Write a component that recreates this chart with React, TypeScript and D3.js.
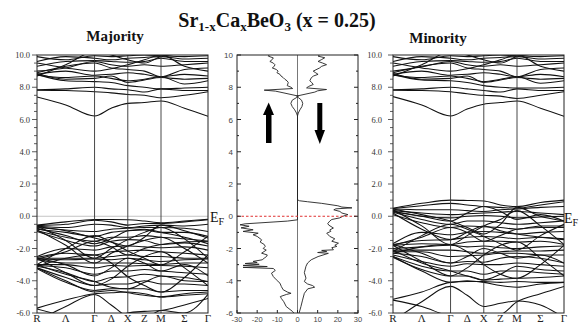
import React from 'react';
import * as d3 from 'd3';

// k-path R - Λ - Γ - Δ - X - Z - M - Σ - Γ (simple cubic lengths)
const kLabels = ['R', 'Λ', 'Γ', 'Δ', 'X', 'Z', 'M', 'Σ', 'Γ'];
const kPos = [0, 0.866, 1.732, 2.232, 2.732, 3.232, 3.732, 4.439, 5.146];
const kLines = [1.732, 2.732, 3.732];
const bandTicks = [10, 8, 6, 4, 2, 0, -2, -4, -6];
const dosTicksY = [10, 8, 6, 4, 2, 0, -2, -4, -6];
const dosTicksX = [-30, -20, -10, 0, 10, 20, 30];

// energies (eV) at the 9 k-points above
const majValence = [
  [-0.55, -0.35, -0.2, -0.2, -0.22, -0.3, -0.4, -0.3, -0.18],
  [-0.58, -0.5, -0.25, -0.35, -0.55, -0.45, -0.45, -0.35, -0.22],
  [-0.62, -0.7, -0.5, -0.55, -0.7, -0.6, -0.55, -0.6, -0.5],
  [-0.7, -0.85, -0.95, -0.8, -0.75, -0.7, -0.7, -0.75, -0.95],
  [-0.8, -1.0, -1.25, -1.0, -0.9, -0.85, -1.0, -1.0, -1.25],
  [-0.9, -1.3, -1.55, -1.3, -1.3, -1.2, -1.3, -1.4, -1.55],
  [-0.95, -1.5, -1.85, -1.55, -1.45, -1.5, -1.75, -1.65, -1.85],
  [-2.5, -2.0, -2.1, -1.9, -1.85, -1.9, -1.95, -1.9, -2.1],
  [-2.55, -2.3, -2.4, -2.2, -2.15, -2.1, -2.2, -2.3, -2.4],
  [-2.6, -2.6, -2.6, -2.5, -2.4, -2.5, -2.5, -2.6, -2.6],
  [-2.65, -2.7, -2.65, -2.7, -2.6, -2.7, -2.8, -2.7, -2.65],
  [-2.7, -2.9, -2.9, -2.9, -2.9, -2.95, -3.0, -2.9, -2.9],
  [-3.0, -3.0, -3.2, -3.05, -3.1, -3.05, -3.05, -3.1, -3.2],
  [-3.05, -3.2, -3.6, -3.4, -3.4, -3.3, -3.4, -3.5, -3.6],
  [-3.1, -3.5, -4.05, -3.8, -3.75, -3.6, -3.7, -3.8, -4.05],
  [-3.2, -3.8, -4.3, -4.2, -4.2, -4.0, -4.2, -4.2, -4.3],
  [-3.25, -4.1, -4.6, -4.5, -4.5, -4.5, -4.7, -4.6, -4.6],
  [-5.7, -5.2, -4.8, -4.75, -4.7, -4.8, -5.0, -4.9, -4.8],
  [-5.75, -6.2, -6.5, -6.3, -6.0, -5.9, -5.85, -5.5, -5.1],
  [-6.5, -5.6, -4.85, -5.5, -6.2, -6.3, -5.85, -6.0, -4.85],
  [-0.6, -1.5, -2.6, -2.0, -1.45, -1.0, -0.7, -1.4, -2.6],
  [-3.0, -2.0, -1.2, -1.6, -2.15, -2.6, -3.0, -2.2, -1.25],
  [-2.6, -3.5, -4.3, -3.9, -3.1, -2.5, -2.2, -3.2, -4.3],
  [-3.1, -2.6, -2.4, -2.9, -3.75, -4.3, -4.7, -3.8, -2.4],
  [-0.65, -0.9, -1.35, -1.6, -1.85, -1.3, -0.55, -0.9, -1.35],
  [-0.85, -1.8, -2.9, -2.3, -1.85, -1.5, -1.3, -2.0, -2.9],
  [-2.6, -3.0, -3.7, -3.2, -2.6, -2.9, -3.4, -3.0, -3.7],
  [-3.0, -3.6, -4.05, -4.4, -4.5, -4.1, -3.7, -4.0, -4.05],
  [-2.65, -2.2, -1.55, -1.9, -2.4, -2.0, -1.75, -1.6, -1.55],
  [-3.2, -4.0, -4.7, -4.6, -4.75, -4.9, -5.0, -4.8, -4.7],
  [-0.75, -1.2, -1.7, -1.4, -0.9, -0.8, -1.0, -1.3, -1.7],
];

const majConduction = [
  [7.4, 6.9, 6.22, 6.7, 7.0, 7.05, 7.15, 6.7, 6.2],
  [7.82, 7.8, 7.72, 7.65, 7.55, 7.5, 7.35, 7.5, 7.72],
  [7.85, 7.9, 8.0, 7.9, 7.85, 7.7, 7.9, 7.8, 7.8],
  [8.8, 8.4, 8.35, 8.3, 8.1, 8.0, 7.9, 7.95, 8.0],
  [8.75, 8.6, 8.7, 8.55, 8.4, 8.5, 8.65, 8.2, 8.4],
  [8.8, 9.0, 8.75, 8.8, 8.9, 8.8, 8.65, 8.8, 8.7],
  [8.9, 9.3, 9.5, 9.2, 9.1, 9.0, 8.65, 9.1, 9.2],
  [9.0, 9.2, 9.6, 9.4, 9.3, 9.4, 9.3, 9.4, 9.5],
  [9.3, 9.6, 9.65, 9.6, 9.55, 9.6, 9.8, 9.6, 9.6],
  [9.6, 9.9, 9.8, 9.7, 9.8, 9.85, 9.9, 9.75, 9.8],
  [9.9, 9.7, 9.95, 9.9, 9.95, 10.0, 9.95, 9.9, 9.95],
  [8.7, 9.4, 10.2, 10.0, 9.7, 9.5, 9.9, 10.1, 10.2],
  [9.5, 9.2, 9.0, 9.15, 9.4, 9.7, 10.0, 9.3, 9.0],
  [8.85, 8.5, 8.55, 8.7, 8.3, 8.45, 8.6, 8.5, 8.55],
];

const minValence = [
  [0.5, 0.8, 1.0, 0.98, 0.95, 0.7, 0.6, 0.85, 1.0],
  [0.48, 0.65, 0.8, 0.7, 0.6, 0.55, 0.5, 0.7, 0.9],
  [0.45, 0.4, 0.4, 0.35, 0.3, 0.4, 0.45, 0.55, 0.6],
  [0.35, 0.2, 0.1, 0.15, 0.2, 0.25, 0.3, 0.2, 0.1],
  [0.3, 0.0, -0.1, 0.0, 0.05, 0.0, -0.1, -0.05, 0.0],
  [0.25, -0.2, -0.5, -0.3, -0.3, -0.4, -0.5, -0.4, -0.3],
  [0.1, -0.4, -0.7, -0.6, -0.65, -0.7, -0.8, -0.6, -0.6],
  [-1.7, -1.0, -1.15, -1.0, -0.95, -1.0, -1.1, -1.0, -0.95],
  [-1.75, -1.5, -1.45, -1.3, -1.25, -1.3, -1.4, -1.3, -1.4],
  [-1.8, -1.7, -1.75, -1.6, -1.55, -1.55, -1.6, -1.55, -1.75],
  [-2.0, -1.9, -1.8, -1.9, -1.85, -1.95, -2.0, -1.9, -1.85],
  [-2.1, -2.1, -2.1, -2.2, -2.3, -2.2, -2.15, -2.15, -2.1],
  [-2.2, -2.2, -2.5, -2.45, -2.4, -2.3, -2.3, -2.4, -2.4],
  [-2.3, -2.5, -2.9, -2.8, -2.85, -2.6, -2.5, -2.6, -2.9],
  [-2.4, -2.8, -3.1, -2.95, -3.0, -3.0, -2.9, -3.0, -3.1],
  [-2.5, -3.1, -3.4, -3.4, -3.6, -3.4, -3.4, -3.5, -3.6],
  [-2.55, -3.3, -3.7, -3.7, -3.95, -3.9, -3.85, -3.8, -3.7],
  [-5.15, -4.7, -4.1, -4.05, -4.05, -4.1, -4.05, -4.1, -4.1],
  [-5.2, -5.6, -6.2, -6.3, -6.2, -6.1, -5.3, -4.8, -4.35],
  [-6.5, -5.3, -4.35, -4.9, -5.6, -5.4, -5.25, -5.5, -6.3],
  [0.4, -0.6, -1.75, -1.2, -0.6, -0.2, 0.35, -0.6, -1.75],
  [-2.2, -1.2, -0.5, -0.8, -1.25, -1.7, -2.1, -1.2, -0.5],
  [-1.8, -2.8, -3.7, -3.2, -2.4, -1.8, -1.6, -2.6, -3.7],
  [-2.3, -1.9, -1.75, -2.2, -3.0, -3.6, -3.85, -3.0, -1.8],
  [0.45, 0.1, -0.3, -0.7, -1.1, -0.5, 0.55, 0.0, -0.3],
  [0.2, -0.8, -1.45, -1.0, -0.6, -0.9, -1.1, -1.3, -1.45],
  [-1.75, -2.3, -2.9, -2.5, -2.0, -2.3, -2.6, -2.4, -2.9],
  [-2.1, -2.9, -3.4, -3.7, -3.95, -3.6, -3.1, -3.3, -3.4],
  [-1.8, -1.3, -0.7, -1.0, -1.55, -1.2, -0.8, -0.7, -0.7],
  [-2.5, -3.4, -4.1, -4.0, -4.1, -4.3, -4.4, -4.2, -4.1],
  [0.3, 0.0, -0.3, 0.2, 0.6, 0.3, -0.2, 0.1, -0.3],
];

const minConduction = [
  [7.42, 6.9, 6.22, 6.65, 6.95, 7.05, 7.15, 6.7, 6.2],
  [7.82, 7.8, 7.72, 7.6, 7.5, 7.45, 7.3, 7.5, 7.72],
  [7.85, 7.9, 8.0, 7.9, 7.8, 7.7, 7.9, 7.8, 7.8],
  [8.8, 8.45, 8.4, 8.3, 8.1, 8.0, 7.95, 7.95, 8.0],
  [8.75, 8.6, 8.7, 8.55, 8.35, 8.5, 8.65, 8.25, 8.4],
  [8.8, 9.0, 8.75, 8.8, 8.9, 8.8, 8.65, 8.8, 8.65],
  [8.9, 9.3, 9.5, 9.2, 9.1, 9.0, 8.65, 9.1, 9.2],
  [9.0, 9.25, 9.6, 9.4, 9.3, 9.4, 9.3, 9.4, 9.5],
  [9.3, 9.6, 9.65, 9.6, 9.55, 9.6, 9.8, 9.6, 9.6],
  [9.6, 9.9, 9.8, 9.7, 9.8, 9.85, 9.9, 9.75, 9.8],
  [9.9, 9.7, 9.95, 9.9, 9.95, 10.0, 9.95, 9.9, 9.95],
  [8.7, 9.4, 10.2, 10.0, 9.7, 9.5, 9.9, 10.1, 10.2],
  [9.5, 9.2, 9.0, 9.15, 9.4, 9.7, 10.0, 9.3, 9.0],
  [8.85, 8.5, 8.55, 8.7, 8.3, 8.45, 8.6, 8.5, 8.55],
];

// DOS [energy, states/eV]; spin up plotted negative
const dosUp = [
  [10.0, -14], [9.93, -14.5], [9.82, -12], [9.72, -12.5], [9.6, -13.7], [9.5, -12], [9.4, -11.2], [9.3, -11.5],
  [9.2, -12.5], [9.1, -10.5], [9.0, -9.6], [8.9, -10.2], [8.8, -8.7], [8.7, -8.2], [8.6, -7.1], [8.5, -6.3],
  [8.4, -5.2], [8.3, -4.6], [8.2, -4.8], [8.1, -5.1], [8.0, -3.2], [7.92, -2.4], [7.82, -16.5], [7.76, -11],
  [7.7, -8.7], [7.45, 0.5], [7.35, -0.6], [7.2, -2.6], [7.0, -3.3], [6.8, -2.6], [6.6, -1.4], [6.4, -0.5],
  [6.22, 0], [-0.22, 0], [-0.3, -5], [-0.47, -26], [-0.53, -28.5], [-0.62, -24], [-0.72, -28], [-0.84, -22],
  [-0.94, -27], [-1.05, -19.5], [-1.15, -22], [-1.25, -20], [-1.46, -17.8], [-1.6, -18.5], [-1.75, -16.5],
  [-1.87, -16], [-2.0, -17], [-2.1, -15.5], [-2.29, -17.8], [-2.4, -15], [-2.49, -15.3], [-2.6, -16.5],
  [-2.7, -17.5], [-2.8, -22], [-2.87, -20], [-2.93, -26], [-2.98, -19], [-3.05, -27], [-3.12, -15],
  [-3.17, -27], [-3.24, -12], [-3.36, -11], [-3.53, -12.9], [-3.74, -12], [-3.94, -10.5], [-4.15, -8.7],
  [-4.36, -8], [-4.56, -7.1], [-4.7, -5], [-4.78, -3.2], [-4.85, -5.5], [-4.98, -8.5], [-5.1, -8],
  [-5.3, -6.8], [-5.6, -5.6], [-5.9, -2.5], [-6.2, -0.5],
];

const dosDown = [
  [10.0, 11], [9.93, 10.2], [9.83, 13.5], [9.72, 12], [9.6, 10.2], [9.5, 12.5], [9.4, 14.4], [9.3, 12],
  [9.2, 11], [9.0, 7.8], [8.9, 9], [8.8, 10.2], [8.7, 8], [8.6, 6.9], [8.4, 6.1], [8.3, 7], [8.17, 7.8],
  [8.05, 5.5], [7.96, 4.5], [7.86, 14.4], [7.78, 10], [7.7, 8.6], [7.45, -0.5], [7.35, 0.5], [7.2, 2.0],
  [7.0, 2.6], [6.8, 2.2], [6.6, 1.2], [6.4, 0.4], [6.22, 0], [1.02, 0], [0.96, 1], [0.9, 5], [0.8, 12],
  [0.65, 20], [0.57, 22], [0.52, 27], [0.46, 19], [0.4, 18], [0.3, 21], [0.2, 22], [0.1, 25], [0.0, 22.5],
  [-0.1, 21], [-0.2, 17], [-0.3, 16], [-0.45, 15], [-0.55, 15.5], [-0.73, 17.8], [-0.85, 16], [-0.94, 16.5],
  [-1.05, 14.5], [-1.25, 16], [-1.4, 18.5], [-1.55, 17], [-1.67, 20.3], [-1.8, 18.5], [-1.87, 19.5],
  [-1.95, 17], [-2.08, 17.8], [-2.12, 12], [-2.18, 14.5], [-2.25, 10], [-2.3, 15.3], [-2.5, 10.2],
  [-2.7, 6.8], [-2.9, 5], [-3.1, 4.2], [-3.5, 3.4], [-3.84, 4.2], [-4.05, 3.4], [-4.2, 5], [-4.3, 7.5],
  [-4.4, 8.5], [-4.5, 5.1], [-4.78, 3.4], [-5.2, 2.5], [-5.6, 1.7], [-6.0, 0.8], [-6.3, 0.5],
];

const serif = 'Liberation Serif, Times New Roman, serif';
const sans = 'Liberation Sans, Arial, sans-serif';

const yBand = d3.scaleLinear().domain([-6, 10]).range([313, 55]);

function BandPanel({ id, left, right, bands, labelX }: any) {
  const x = d3.scaleLinear().domain([0, kPos[kPos.length - 1]]).range([left, right]);
  const line = d3.line<number>()
    .x((d, i) => x(kPos[i]))
    .y(d => yBand(d))
    .curve(d3.curveMonotoneX);
  const minor = d3.range(-6, 10.01, 0.5);
  return (
    <g>
      <defs>
        <clipPath id={id}>
          <rect x={left} y={55} width={right - left} height={258} />
        </clipPath>
      </defs>
      <line x1={left} x2={right} y1={yBand(0)} y2={yBand(0)} stroke="#b5b5b5" strokeWidth={0.8} />
      <g clipPath={`url(#${id})`}>
        {bands.map((b: number[], i: number) => (
          <path key={i} d={line(b) || ''} fill="none" stroke="#111" strokeWidth={1.05} />
        ))}
      </g>
      {kLines.map(k => (
        <line key={k} x1={x(k)} x2={x(k)} y1={55} y2={313} stroke="#333" strokeWidth={0.9} />
      ))}
      <rect x={left} y={55} width={right - left} height={258} fill="none" stroke="#222" strokeWidth={1} />
      {minor.map(v => (
        <line key={v} x1={left - (v % 2 === 0 ? 5 : 3)} x2={left} y1={yBand(v)} y2={yBand(v)} stroke="#333" strokeWidth={0.8} />
      ))}
      {bandTicks.map(v => (
        <text key={v} x={labelX} y={yBand(v) + 3} textAnchor="end" fontFamily={serif} fontSize={8.5} fill="#333">
          {v.toFixed(1)}
        </text>
      ))}
      {kLabels.map((l, i) => (
        <text key={i} x={x(kPos[i])} y={321.5} textAnchor="middle" fontFamily={serif} fontSize={11} fill="#222">
          {l}
        </text>
      ))}
    </g>
  );
}

function DosPanel() {
  const left = 237, right = 358, top = 55, bottom = 313;
  const x = d3.scaleLinear().domain([-30, 30]).range([left, right]);
  const y = d3.scaleLinear().domain([-6, 10]).range([bottom, top]);
  const line = d3.line<number[]>().x(d => x(d[1])).y(d => y(d[0]));
  const minorY = d3.range(-5, 10, 2);
  return (
    <g>
      <defs>
        <clipPath id="dosclip">
          <rect x={left} y={top} width={right - left} height={bottom - top} />
        </clipPath>
      </defs>
      <line x1={x(0)} x2={x(0)} y1={top} y2={bottom} stroke="#555" strokeWidth={0.8} />
      <g clipPath="url(#dosclip)">
        <path d={line(dosUp) || ''} fill="none" stroke="#222" strokeWidth={0.9} />
        <path d={line(dosDown) || ''} fill="none" stroke="#222" strokeWidth={0.9} />
      </g>
      <line x1={left} x2={right} y1={y(0)} y2={y(0)} stroke="#e03030" strokeWidth={1} strokeDasharray="2.5,2" />
      <rect x={left} y={top} width={right - left} height={bottom - top} fill="none" stroke="#222" strokeWidth={1} />
      {dosTicksY.map(v => (
        <g key={v}>
          <line x1={left} x2={left + 4} y1={y(v)} y2={y(v)} stroke="#222" />
          <line x1={right - 4} x2={right} y1={y(v)} y2={y(v)} stroke="#222" />
          <text x={left - 4} y={y(v) + 3} textAnchor="end" fontFamily={sans} fontSize={8} fill="#444">{v}</text>
        </g>
      ))}
      {minorY.map(v => (
        <g key={v}>
          <line x1={left} x2={left + 2} y1={y(v)} y2={y(v)} stroke="#222" />
          <line x1={right - 2} x2={right} y1={y(v)} y2={y(v)} stroke="#222" />
        </g>
      ))}
      {dosTicksX.map(v => (
        <g key={v}>
          <line x1={x(v)} x2={x(v)} y1={bottom} y2={bottom - 3} stroke="#222" />
          <text x={x(v)} y={321.5} textAnchor="middle" fontFamily={sans} fontSize={7.5} fill="#444">{v}</text>
        </g>
      ))}
      {/* spin arrows */}
      <rect x={266} y={114} width={5.5} height={29} fill="#000" />
      <path d="M263,115 L268.7,102.5 L274,115 Z" fill="#000" />
      <rect x={317.3} y={103} width={5} height={28} fill="#000" />
      <path d="M314.5,130 L319.8,144 L325,130 Z" fill="#000" />
    </g>
  );
}

export default function App() {
  return (
    <svg width={579} height={322} style={{ position: 'absolute', left: 0, top: 0, background: '#fff' }}>
      <rect width={579} height={322} fill="#fff" />
      <text x={277} y={27} textAnchor="middle" fontFamily={serif} fontWeight="bold" fontSize={20} fill="#111">
        Sr<tspan fontSize={13} dy={4}>1-x</tspan>
        <tspan dy={-4}>Ca</tspan><tspan fontSize={13} dy={4}>x</tspan>
        <tspan dy={-4}>BeO</tspan><tspan fontSize={13} dy={4}>3</tspan>
        <tspan dy={-4}> (x = 0.25)</tspan>
      </text>
      <text x={115} y={41} textAnchor="middle" fontFamily={serif} fontWeight="bold" fontSize={15} fill="#111">Majority</text>
      <text x={438} y={43} textAnchor="middle" fontFamily={serif} fontWeight="bold" fontSize={15} fill="#111">Minority</text>

      <BandPanel id="majclip" left={37} right={208} bands={[...majValence, ...majConduction]} labelX={30} />
      <DosPanel />
      <BandPanel id="minclip" left={393} right={564} bands={[...minValence, ...minConduction]} labelX={382} />

      <text x={210} y={222} fontFamily={serif} fontSize={14} fill="#111">
        E<tspan fontSize={10} dy={3}>F</tspan>
      </text>
      <text x={564} y={223} fontFamily={serif} fontSize={14} fill="#111">
        E<tspan fontSize={10} dy={3}>F</tspan>
      </text>
    </svg>
  );
}
